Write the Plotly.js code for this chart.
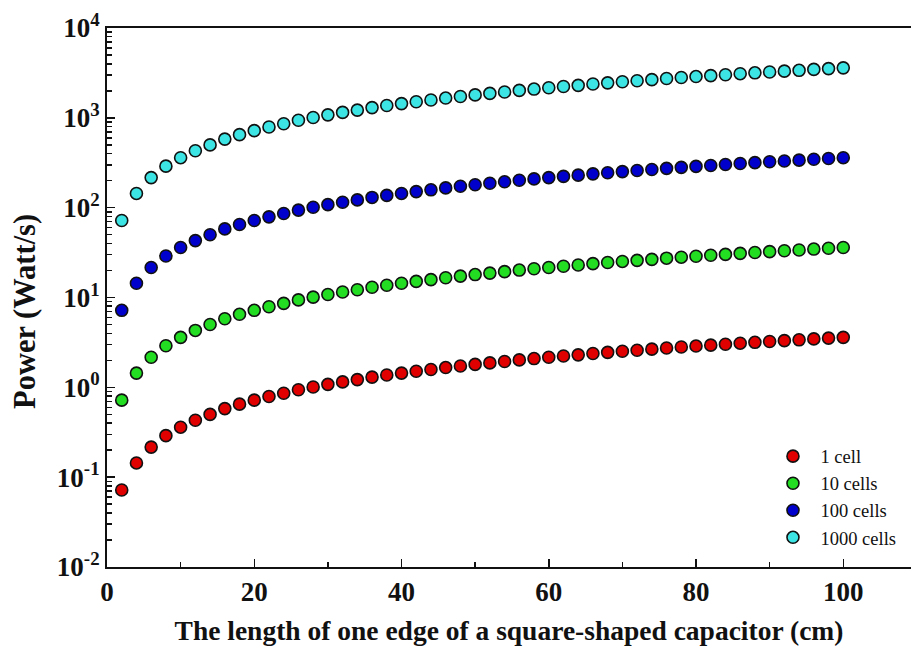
<!DOCTYPE html>
<html>
<head>
<meta charset="utf-8">
<script src="https://cdn.plot.ly/plotly-3.0.1.min.js"></script>
<style>html,body{margin:0;padding:0;overflow:hidden;background:#fff}</style>
</head>
<body>
<div id="chart" style="width:911px;height:658px"></div>
<script>
// Edge length (cm)
const edgeLength = [2,4,6,8,10,12,14,16,18,20,22,24,26,28,30,32,34,36,38,40,42,44,46,48,50,52,54,56,58,60,62,64,66,68,70,72,74,76,78,80,82,84,86,88,90,92,94,96,98,100];

const seriesNames = ["1 cell", "10 cells", "100 cells", "1000 cells"];

const power1 = [0.072,0.144,0.216,0.29,0.36,0.43,0.50,0.58,0.65,0.72,0.79,0.86,0.94,1.01,1.08,1.15,1.22,1.30,1.37,1.44,1.51,1.58,1.66,1.73,1.80,1.87,1.94,2.02,2.09,2.16,2.23,2.30,2.38,2.45,2.52,2.59,2.66,2.74,2.81,2.88,2.95,3.02,3.10,3.17,3.24,3.31,3.38,3.46,3.53,3.60];
const power10 = [0.72,1.44,2.16,2.9,3.6,4.3,5.0,5.8,6.5,7.2,7.9,8.6,9.4,10.1,10.8,11.5,12.2,13.0,13.7,14.4,15.1,15.8,16.6,17.3,18.0,18.7,19.4,20.2,20.9,21.6,22.3,23.0,23.8,24.5,25.2,25.9,26.6,27.4,28.1,28.8,29.5,30.2,31.0,31.7,32.4,33.1,33.8,34.6,35.3,36.0];
const power100 = [7.2,14.4,21.6,29,36,43,50,58,65,72,79,86,94,101,108,115,122,130,137,144,151,158,166,173,180,187,194,202,209,216,223,230,238,245,252,259,266,274,281,288,295,302,310,317,324,331,338,346,353,360];
const power1000 = [72,144,216,290,360,430,500,580,650,720,790,860,940,1010,1080,1150,1220,1300,1370,1440,1510,1580,1660,1730,1800,1870,1940,2020,2090,2160,2230,2300,2380,2450,2520,2590,2660,2740,2810,2880,2950,3020,3100,3170,3240,3310,3380,3460,3530,3600];

const xTickVals = [0,20,40,60,80,100];
const xMinorVals = [10,30,50,70,90];
const yTickVals = [0.01,0.1,1,10,100,1000,10000];
const yTickText = ["10<sup>-2</sup>","10<sup>-1</sup>","10<sup>0</sup>","10<sup>1</sup>","10<sup>2</sup>","10<sup>3</sup>","10<sup>4</sup>"];
const xTitle = "The length of one edge of a square-shaped capacitor (cm)";
const yTitle = "Power (Watt/s)";

const colors = ["#e00000", "#22dd22", "#0000cc", "#3ce4e4"];
const allPower = [power1, power10, power100, power1000];

const traces = allPower.map((p, i) => ({
  x: edgeLength,
  y: p,
  name: seriesNames[i],
  type: "scatter",
  mode: "markers",
  marker: {color: colors[i], size: 12, line: {color: "#111", width: 1.6}}
}));

const serif = "'Liberation Serif', 'Times New Roman', serif";

const layout = {
  width: 911, height: 658,
  margin: {l: 107, r: 0, t: 28, b: 91},
  paper_bgcolor: "#fff", plot_bgcolor: "#fff",
  showlegend: true,
  legend: {
    x: 0.819, y: 0.24, xanchor: "left", yanchor: "top",
    font: {family: serif, size: 18.5, color: "#111"},
    bgcolor: "rgba(0,0,0,0)", itemwidth: 45, tracegroupgap: 0
  },
  annotations: [{
    text: "<b>" + yTitle + "</b>",
    xref: "paper", yref: "paper", x: -0.102, y: 0.475,
    xanchor: "center", yanchor: "middle", textangle: -90, showarrow: false,
    font: {family: serif, size: 30.5, color: "#111"}
  }],
  xaxis: {
    range: [0, 109.2],
    showline: true, linecolor: "#111", linewidth: 2, mirror: true,
    showgrid: false, zeroline: false,
    tickmode: "array", tickvals: xTickVals,
    ticks: "inside", ticklen: 8, tickwidth: 1.5, tickcolor: "#111",
    minor: {tickmode: "array", tickvals: xMinorVals, ticks: "inside", ticklen: 5, tickwidth: 1.5, tickcolor: "#111"},
    tickfont: {family: serif, size: 27, color: "#111", weight: "bold"},
    title: {text: "<b>" + xTitle + "</b>", font: {family: serif, size: 27.5, color: "#111"}, standoff: 14}
  },
  yaxis: {
    type: "log",
    range: [-2, 4],
    showline: true, linecolor: "#111", linewidth: 2, mirror: false,
    showgrid: false, zeroline: false,
    tickmode: "array", tickvals: yTickVals, ticktext: yTickText,
    ticks: "inside", ticklen: 8, tickwidth: 1.5, tickcolor: "#111",
    minor: {dtick: "D1", ticks: "inside", ticklen: 5, tickwidth: 1.5, tickcolor: "#111"},
    tickfont: {family: serif, size: 27, color: "#111", weight: "bold"}
  }
};

Plotly.newPlot("chart", traces, layout, {displayModeBar: false, staticPlot: true});
</script>
</body>
</html>
